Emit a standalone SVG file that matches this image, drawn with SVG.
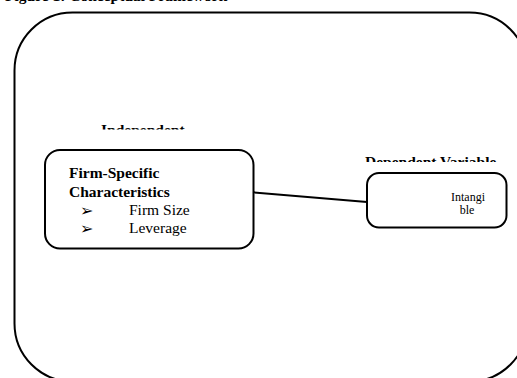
<svg xmlns="http://www.w3.org/2000/svg" width="517" height="378" viewBox="0 0 517 378">
<defs>
<style>
.b{fill:none;stroke:#000;stroke-width:2}
.t{font-family:"Liberation Serif","Times New Roman",serif;fill:#000}
.bold{font-weight:bold}
.bul{font-family:"DejaVu Sans",sans-serif;font-size:16px;fill:#000}
</style>
<clipPath id="c1"><rect x="90" y="110" width="120" height="19.5"/></clipPath>
<clipPath id="c2"><rect x="355" y="140" width="160" height="22"/></clipPath>
<clipPath id="c3"><rect x="60" y="160" width="180" height="76"/></clipPath>
</defs>
<rect width="517" height="378" fill="#fff"/>
<text class="t bold" x="5" y="0.5" font-size="15.5">Figure 1: Conceptual Framework</text>
<g id="frame">
<rect class="b" x="14.5" y="12.5" width="513" height="369" rx="58" ry="58"/>
</g>
<g id="independent-label" clip-path="url(#c1)">
<text class="t bold" x="101" y="134.5" font-size="15.5">Independent</text>
</g>
<g id="dependent-label" clip-path="url(#c2)">
<text class="t bold" x="365" y="166.5" font-size="15.5">Dependent Variable</text>
</g>
<g id="connectors">
<line class="b" x1="253" y1="192.3" x2="367" y2="202"/>
</g>
<g id="firm-specific">
<rect class="b" x="45" y="150" width="208.5" height="98.5" rx="15" ry="15"/>
<g clip-path="url(#c3)">
<text class="t bold" x="69" y="178" font-size="15.5">Firm-Specific</text>
<text class="t bold" x="69" y="197" font-size="15.5">Characteristics</text>
<text class="bul" x="80" y="215.5">➢</text>
<text class="t" x="129" y="215" font-size="15.5">Firm Size</text>
<text class="bul" x="80" y="233.5">➢</text>
<text class="t" x="129" y="233" font-size="15.5">Leverage</text>
</g>
</g>
<g id="intangible">
<rect class="b" x="367" y="173" width="139.5" height="54.5" rx="12" ry="12"/>
<text class="t" x="468" y="201" font-size="12" text-anchor="middle">Intangi</text>
<text class="t" x="467" y="213.5" font-size="12" text-anchor="middle">ble</text>
</g>
</svg>
